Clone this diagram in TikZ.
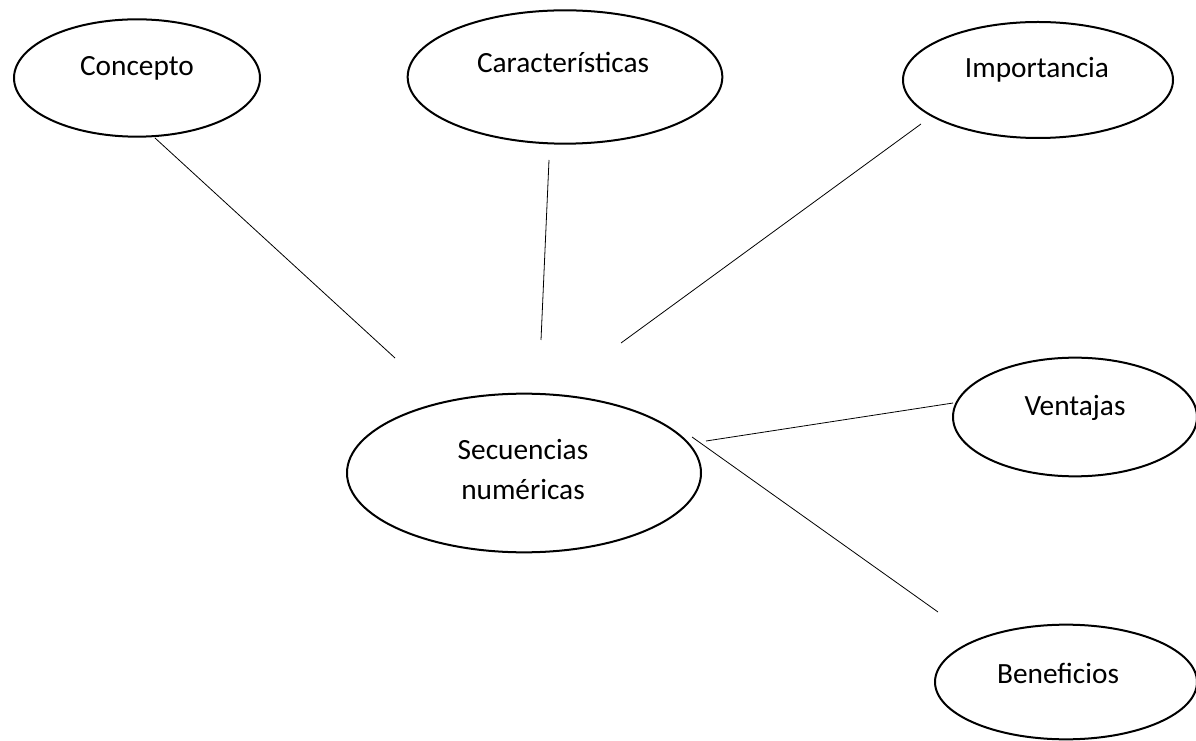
\documentclass[tikz,border=0pt]{standalone}
\usepackage{fontspec}
\setmainfont{Carlito}
\usetikzlibrary{shapes.geometric}

\begin{document}
\begin{tikzpicture}[
  x=0.75pt, y=-0.75pt, font=\fontsize{22}{30}\selectfont,
  bub/.style ={draw,ellipse,line width=1.5pt,inner sep=0pt},
  txt/.style ={inner sep=0pt,align=center},
  ln/.style  ={draw,line width=0.6pt},
]
\useasboundingbox (0,0) rectangle (1196,741);

% ----------------------------------------------------------- centre
\node[bub,minimum width=265.5pt,minimum height=119pt] (sec) at (524,473) {};
\node[txt] (sec-t) at (523,470) {Secuencias\\numéricas};

% ----------------------------------------------------------- top row
\node[bub,minimum width=184.5pt,minimum height=88pt] (con) at (137,78) {};
\node[txt] (con-t) at (137,68) {Concepto};

\node[bub,minimum width=236pt,minimum height=100pt] (car) at (565,77) {};
\node[txt] (car-t) at (563,62) {Características};

\node[bub,minimum width=202.5pt,minimum height=87pt] (imp) at (1038,80) {};
\node[txt] (imp-t) at (1037,70) {Importancia};

% ----------------------------------------------------------- right side
\node[bub,minimum width=183pt,minimum height=89pt] (ven) at (1075,417) {};
\node[txt] (ven-t) at (1075,408) {Ventajas};

\node[bub,minimum width=196.5pt,minimum height=86pt] (ben) at (1066,682) {};
\node[txt] (ben-t) at (1058,673) {Beneficios};

% ----------------------------------------------------------- loose ends of the spokes
\coordinate (con-a) at (155,138);  \coordinate (con-b) at (395,358);
\coordinate (car-a) at (549,160);  \coordinate (car-b) at (541,340);
\coordinate (imp-a) at (921,124);  \coordinate (imp-b) at (621,343);
\coordinate (ven-a) at (953,403);  \coordinate (ven-b) at (706,441);
\coordinate (ben-a) at (938,612);  \coordinate (ben-b) at (692,437);

\foreach \k in {con,car,imp,ven,ben} { \draw[ln] (\k-a) -- (\k-b); }

\end{tikzpicture}
\end{document}
